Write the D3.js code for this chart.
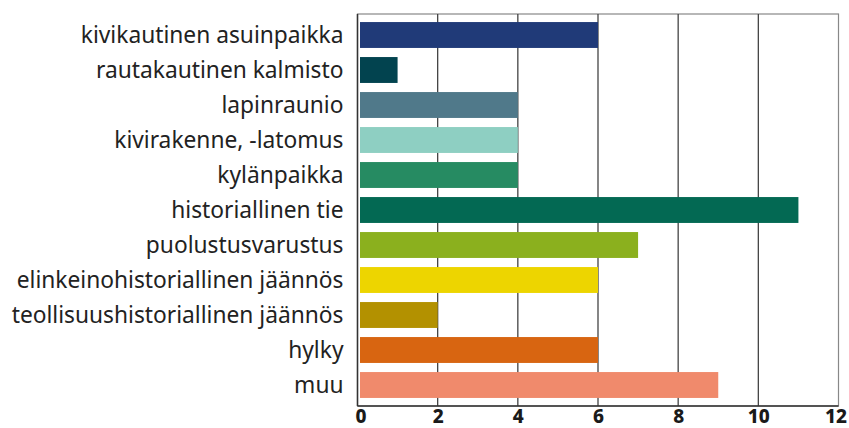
<!DOCTYPE html>
<html><head><meta charset="utf-8">
<script src="https://cdn.jsdelivr.net/npm/d3@7"></script>
<style>body{margin:0;background:#fff}svg{display:block}</style>
</head><body>
<script>
const categories = ["kivikautinen asuinpaikka","rautakautinen kalmisto","lapinraunio","kivirakenne, -latomus","kylänpaikka","historiallinen tie","puolustusvarustus","elinkeinohistoriallinen jäännös","teollisuushistoriallinen jäännös","hylky","muu"];
const values = [6,1,4,4,4,11,7,6,2,6,9];
const colors = ["#203a78","#02434f","#50798a","#8ecfc2","#268b62","#036953","#8bb01e","#edd500","#b39100","#d86511","#f08a6c"];
const tickValues = [0,2,4,6,8,10,12];

const W=849,H=428;
const m={left:357.5,right:10.5,top:14,bottom:22};
const svg=d3.select("body").append("svg").attr("width",W).attr("height",H);
const x=d3.scaleLinear().domain([0,12]).range([m.left,W-m.right]);
const y=d3.scaleBand().domain(categories).range([17.5,402.5]).paddingInner(0.26).paddingOuter(0.13);

// frame
svg.append("rect").attr("x",m.left).attr("y",m.top).attr("width",x(12)-m.left).attr("height",H-m.bottom-m.top)
  .attr("fill","none").attr("stroke","#888").attr("stroke-width",1.2);
// grid
svg.append("g").selectAll("line").data(tickValues.slice(1,-1)).join("line")
  .attr("x1",d=>x(d)).attr("x2",d=>x(d)).attr("y1",m.top).attr("y2",H-m.bottom)
  .attr("stroke","#444").attr("stroke-width",1.3);
// bars
svg.append("g").selectAll("rect").data(values).join("rect")
  .attr("x",x(0)+2.5).attr("y",(d,i)=>y(categories[i]))
  .attr("width",d=>x(d)-x(0)-2.5).attr("height",y.bandwidth())
  .attr("fill",(d,i)=>colors[i]);
// left axis line & bottom
svg.append("line").attr("x1",x(0)).attr("x2",x(0)).attr("y1",m.top).attr("y2",H-m.bottom).attr("stroke","#333").attr("stroke-width",1.5);
svg.append("line").attr("x1",x(0)).attr("x2",x(12)).attr("y1",H-m.bottom).attr("y2",H-m.bottom).attr("stroke","#333").attr("stroke-width",1.5);

// x axis
const xa=svg.append("g").attr("transform",`translate(0,${H-m.bottom})`)
  .call(d3.axisBottom(x).tickValues(tickValues).tickSize(0).tickPadding(3).tickFormat(d3.format("d")));
xa.select(".domain").remove();
xa.selectAll("text").attr("font-family","'Noto Sans', sans-serif").attr("font-weight","800").attr("font-size","19px").attr("fill","#1a1a1a")
  .attr("dx",d=>d===12?-3:(d===0?3:0));

// y axis
const ya=svg.append("g").attr("transform",`translate(${x(0)-14},0)`)
  .call(d3.axisLeft(y).tickSize(0).tickPadding(0));
ya.select(".domain").remove();
const yt=ya.selectAll("text").attr("font-family","'Noto Sans', sans-serif").attr("font-size","19px").attr("fill","#222").attr("dy","0.34em");
// fit longest label to reference width (~332px)
let maxW=0; yt.each(function(){maxW=Math.max(maxW,this.getComputedTextLength());});
const fs=19*332/maxW;
yt.attr("font-size",fs+"px");
</script>
</body></html>
